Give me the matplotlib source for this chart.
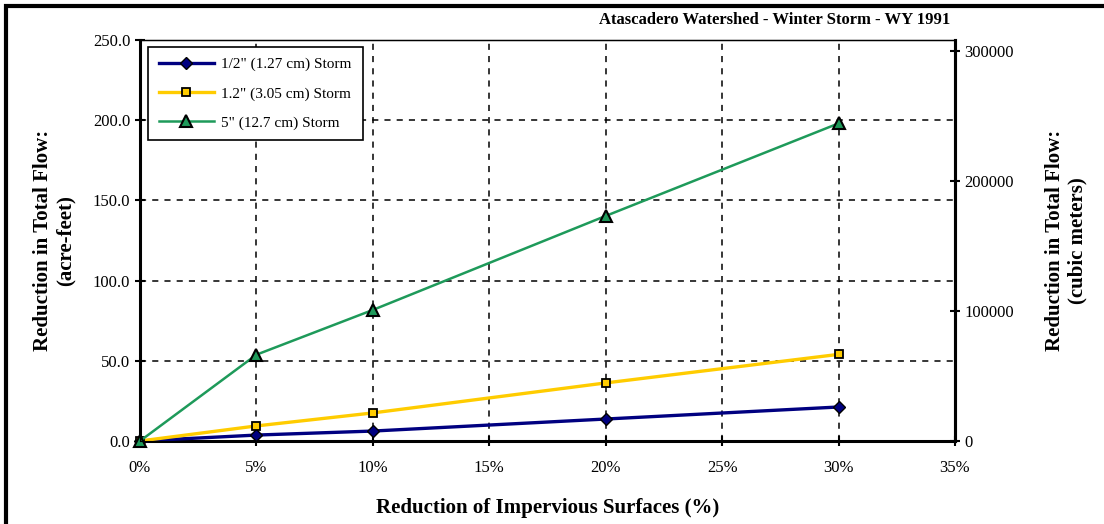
import matplotlib
matplotlib.use('Agg')
import matplotlib.pyplot as plt
from matplotlib.patches import Rectangle
from matplotlib.ticker import FuncFormatter

# 不透水面积减少比例 (%)
pct = [0, 5, 10, 20, 30]
storm_half = [0.0, 3.7, 6.2, 13.7, 21.2]
storm_12 = [0.0, 9.4, 17.5, 36.2, 54.0]
storm_5 = [0.0, 53.8, 81.7, 140.3, 198.0]
labels = ['1/2" (1.27 cm) Storm', '1.2" (3.05 cm) Storm', '5" (12.7 cm) Storm']
AF_TO_M3 = 1233.48

plt.rcParams['font.family'] = ['Liberation Serif', 'DejaVu Serif']

fig = plt.figure(figsize=(11.04, 5.24), dpi=100)
ax = fig.add_axes([0.1268, 0.1584, 0.7382, 0.7653])

ax.plot(pct, storm_half, '-', color='#000080', lw=2.4, marker='D', ms=6,
        mfc='#000080', mec='black', label=labels[0], clip_on=False, zorder=4)
ax.plot(pct, storm_12, '-', color='#FFCC00', lw=2.4, marker='s', ms=6,
        mfc='#FFCC00', mec='black', mew=1.3, label=labels[1], clip_on=False, zorder=4)
ax.plot(pct, storm_5, '-', color='#1E9A5A', lw=1.8, marker='^', ms=8,
        mfc='#1E9A5A', mec='black', mew=1.5, label=labels[2], clip_on=False, zorder=4)

ax.set_xlim(0, 35)
ax.set_ylim(0, 250)
ax.set_xticks(range(0, 36, 5))
ax.set_yticks(range(0, 251, 50))
ax.xaxis.set_major_formatter(FuncFormatter(lambda v, p: '%d%%' % v))
ax.yaxis.set_major_formatter(FuncFormatter(lambda v, p: '%.1f' % v))
ax.grid(True, color='black', ls=(0, (4, 4)), lw=1.1)
ax.tick_params(direction='inout', length=7, width=1.5, labelsize=12)
ax.tick_params(axis='x', pad=10)
for s in ('left', 'bottom', 'right'):
    ax.spines[s].set_linewidth(2.2)
ax.spines['top'].set_linewidth(1.0)

ax.set_xlabel('Reduction of Impervious Surfaces (%)', fontsize=15,
              fontweight='bold', labelpad=16)
ax.set_ylabel('Reduction in Total Flow:\n(acre-feet)', fontsize=15,
              fontweight='bold', labelpad=12)

ax2 = ax.twinx()
ax2.set_ylim(0, 250 * AF_TO_M3)
ax2.set_yticks([0, 100000, 200000, 300000])
ax2.yaxis.set_major_formatter(FuncFormatter(lambda v, p: '%d' % v))
ax2.tick_params(direction='inout', length=7, width=1.5, labelsize=12)
ax2.spines['right'].set_linewidth(2.2)
ax2.set_ylabel('Reduction in Total Flow:\n(cubic meters)', fontsize=15,
               fontweight='bold', labelpad=22)

leg = ax.legend(loc='upper left', bbox_to_anchor=(0.01, 0.983), fontsize=11,
                fancybox=False, edgecolor='black', framealpha=1,
                borderaxespad=0, handlelength=3.6, handletextpad=0.5,
                borderpad=0.7, labelspacing=1.0)
leg.get_frame().set_linewidth(1.2)

fig.text(0.861, 0.962, 'Atascadero Watershed - Winter Storm - WY 1991',
         ha='right', va='center', fontsize=12, fontweight='bold')

# 外框（只露出上、左两边）
fig.patches.append(Rectangle((0.005, -0.1), 1.2, 0.1 + 0.989,
                             transform=fig.transFigure, fill=False,
                             lw=3, edgecolor='black'))

fig.savefig('out.png', dpi=100)
